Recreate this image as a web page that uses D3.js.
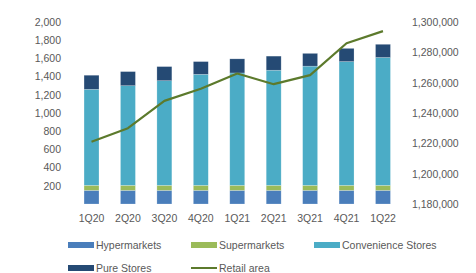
<!DOCTYPE html>
<html>
<head>
<meta charset="utf-8">
<script src="https://cdn.jsdelivr.net/npm/d3@7"></script>
<style>
  body { margin: 0; background: #fff; }
  text { font-family: "Liberation Sans", Arial, sans-serif; fill: #595959; }
</style>
</head>
<body>
<div id="chart"></div>
<script>
// quarters
var quarters = ["1Q20", "2Q20", "3Q20", "4Q20", "1Q21", "2Q21", "3Q21", "4Q21", "1Q22"];
// number of stores per format
var hypermarkets = [150, 150, 150, 150, 150, 150, 150, 150, 150];
var supermarkets = [55, 55, 55, 55, 55, 55, 55, 55, 55];
var convenience = [1055, 1095, 1150, 1220, 1235, 1265, 1310, 1360, 1405];
var pureStores = [155, 155, 155, 140, 155, 155, 140, 145, 145];
// retail area, m2
var retailArea = [1221000, 1230000, 1248000, 1256000, 1266000, 1259000, 1265000, 1286000, 1294000];

var leftTicks = [200, 400, 600, 800, 1000, 1200, 1400, 1600, 1800, 2000];
var rightTicks = [1180000, 1200000, 1220000, 1240000, 1260000, 1280000, 1300000];

var series = [
  { name: "Hypermarkets", values: hypermarkets, color: "#4a7ebb" },
  { name: "Supermarkets", values: supermarkets, color: "#9bbb59" },
  { name: "Convenience Stores", values: convenience, color: "#4bacc6" },
  { name: "Pure Stores", values: pureStores, color: "#254a74" }
];
var lineColor = "#5c7a2c";

var width = 476, height = 273;

var svg = d3.select("#chart").append("svg")
  .attr("width", width)
  .attr("height", height);

var x = d3.scaleBand()
  .domain(quarters)
  .range([73.3, 401.2])
  .paddingInner(0.59)
  .paddingOuter(0.295);

var yLeft = d3.scaleLinear().domain([0, 2000]).range([204, 22]);
var yRight = d3.scaleLinear().domain([1180000, 1300000]).range([204, 22]);

// stack the bars
var rows = quarters.map(function(q, i) {
  var r = { q: q };
  series.forEach(function(s) { r[s.name] = s.values[i]; });
  return r;
});
var stack = d3.stack().keys(series.map(function(s) { return s.name; }));
var layers = stack(rows);

svg.selectAll(".layer")
  .data(layers)
  .enter().append("g")
  .attr("class", "layer")
  .attr("fill", function(d, i) { return series[i].color; })
  .selectAll("rect")
  .data(function(d) { return d; })
  .enter().append("rect")
  .attr("x", function(d) { return x(d.data.q); })
  .attr("width", x.bandwidth())
  .attr("y", function(d) { return yLeft(d[1]); })
  .attr("height", function(d) { return yLeft(d[0]) - yLeft(d[1]); })
  .attr("stroke", "#ffffff")
  .attr("stroke-opacity", 0.35)
  .attr("stroke-width", 0.6);

// left axis
var leftAxis = svg.append("g")
  .attr("transform", "translate(61,0)")
  .call(d3.axisLeft(yLeft).tickValues(leftTicks).tickSize(0).tickPadding(0)
    .tickFormat(d3.format(",")));
leftAxis.select(".domain").remove();
leftAxis.selectAll("text").style("font-size", "10.5px").attr("fill", "#767676");

// right axis
var rightAxis = svg.append("g")
  .attr("transform", "translate(412,0)")
  .call(d3.axisRight(yRight).tickValues(rightTicks).tickSize(0).tickPadding(0)
    .tickFormat(d3.format(",")));
rightAxis.select(".domain").remove();
rightAxis.selectAll("text").style("font-size", "10.5px").attr("fill", "#767676");

// x axis
var xAxis = svg.append("g")
  .attr("transform", "translate(0,215)")
  .call(d3.axisBottom(x).tickSize(0).tickPadding(0));
xAxis.select(".domain").remove();
xAxis.selectAll("text").style("font-size", "10.5px").attr("fill", "#767676");

// retail area line
var line = d3.line()
  .x(function(d, i) { return x(quarters[i]) + x.bandwidth() / 2; })
  .y(function(d) { return yRight(d); });

svg.append("path")
  .datum(retailArea)
  .attr("d", line)
  .attr("fill", "none")
  .attr("stroke", lineColor)
  .attr("stroke-width", 2.2)
  .attr("stroke-linejoin", "round");

// legend
var legendItems = [
  { name: "Hypermarkets", color: series[0].color, type: "rect", x: 68, y: 245 },
  { name: "Supermarkets", color: series[1].color, type: "rect", x: 191, y: 245 },
  { name: "Convenience Stores", color: series[2].color, type: "rect", x: 314, y: 245 },
  { name: "Pure Stores", color: series[3].color, type: "rect", x: 68, y: 268 },
  { name: "Retail area", color: lineColor, type: "line", x: 191, y: 268 }
];

var legend = svg.selectAll(".legend")
  .data(legendItems)
  .enter().append("g")
  .attr("class", "legend")
  .attr("transform", function(d) { return "translate(" + d.x + "," + d.y + ")"; });

legend.filter(function(d) { return d.type === "rect"; })
  .append("rect")
  .attr("x", 0).attr("y", -3)
  .attr("width", 26).attr("height", 6)
  .attr("fill", function(d) { return d.color; });

legend.filter(function(d) { return d.type === "line"; })
  .append("line")
  .attr("x1", 0).attr("x2", 26)
  .attr("y1", 0).attr("y2", 0)
  .attr("stroke", function(d) { return d.color; })
  .attr("stroke-width", 2);

legend.append("text")
  .attr("x", 28)
  .attr("dy", "0.35em")
  .style("font-size", "10.5px")
  .attr("fill", "#767676")
  .text(function(d) { return d.name; });
</script>
</body>
</html>
